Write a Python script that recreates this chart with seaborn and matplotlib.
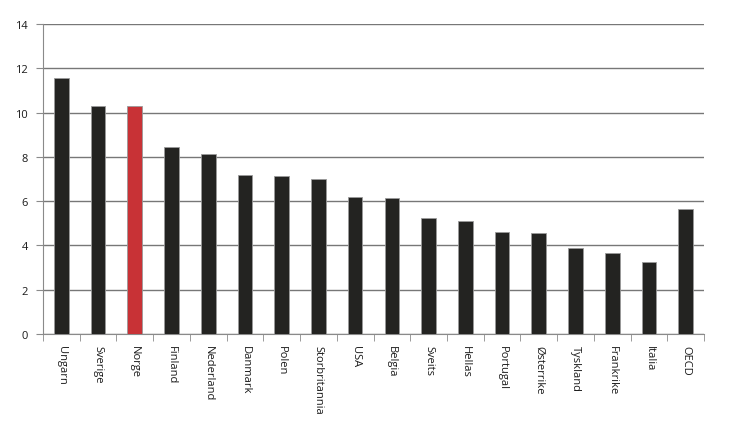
import numpy as np
import matplotlib
matplotlib.use("Agg")
import matplotlib.pyplot as plt
import seaborn as sns

countries = ["Ungarn", "Sverige", "Norge", "Finland", "Nederland", "Danmark", "Polen",
             "Storbritannia", "USA", "Belgia", "Sveits", "Hellas", "Portugal",
             "Østerrike", "Tyskland", "Frankrike", "Italia", "OECD"]
values = [11.58, 10.31, 10.28, 8.46, 8.14, 7.17, 7.12, 6.99, 6.20,
          6.13, 5.25, 5.09, 4.61, 4.58, 3.87, 3.67, 3.24, 5.63]
highlight = "Norge"

sns.set_style("white")
plt.rcParams['font.family'] = ['Open Sans', 'DejaVu Sans']

colors = {c: ("#c83236" if c == highlight else "#232321") for c in countries}

fig = plt.figure(figsize=(7.3, 4.31), dpi=100)
ax = fig.add_axes([43 / 730, 1 - 335 / 431, 661 / 730, 310 / 431])

sns.barplot(x=countries, y=values, hue=countries, palette=colors, legend=False,
            width=0.4, saturation=1, edgecolor="#9a9a9a", linewidth=0.6, ax=ax, zorder=3)

ax.set_ylim(0, 14)
ax.set_xlim(-0.5, len(countries) - 0.5)
ax.set_yticks(np.arange(0, 15, 2))
ax.yaxis.grid(True, color="#777777", linewidth=1.0, zorder=0)
ax.set_axisbelow(True)

for s in ["top", "right"]:
    ax.spines[s].set_visible(False)
ax.spines["left"].set_color("#8a8a8a")
ax.spines["bottom"].set_color("#8a8a8a")

ax.set_xticks(np.arange(len(countries)))
ax.set_xticklabels(countries, rotation=270, fontsize=8, va="top", ha="center", color="#1a1a1a")
ax.set_xticks(np.arange(-0.5, len(countries)), minor=True)
ax.tick_params(axis="x", which="major", length=0, pad=8)
ax.tick_params(axis="x", which="minor", length=5, color="#8a8a8a", direction="out", bottom=True)
ax.tick_params(axis="y", length=5, color="#8a8a8a", direction="out", left=True,
               labelsize=8, labelcolor="#1a1a1a", pad=6)
ax.set_xlabel("")
ax.set_ylabel("")

fig.savefig("out.png", dpi=100)
